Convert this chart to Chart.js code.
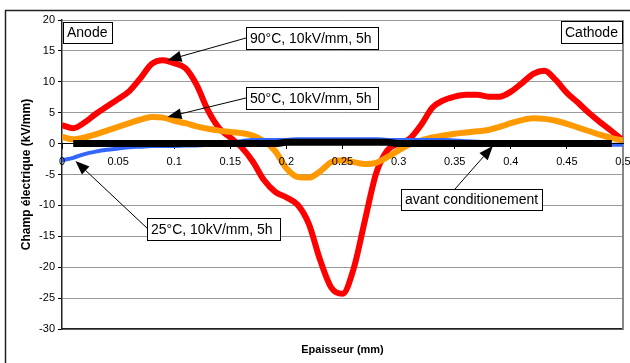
<!DOCTYPE html>
<html>
<head>
<meta charset="utf-8">
<script src="https://cdn.jsdelivr.net/npm/chart.js@4"></script>
<style>
    body { margin: 0; background: #fff; }
    #wrap { width: 630px; height: 363px; position: relative; }
</style>
</head>
<body>
<div id="wrap"><canvas id="fieldChart"></canvas></div>
<script>
// epaisseur (mm), one reading every 0.01 mm
const thickness = [
    0, 0.01, 0.02, 0.03, 0.04, 0.05, 0.06, 0.07, 0.08, 0.09,
    0.1, 0.11, 0.12, 0.13, 0.14, 0.15, 0.16, 0.17, 0.18, 0.19,
    0.2, 0.21, 0.22, 0.23, 0.24, 0.25, 0.26, 0.27, 0.28, 0.29,
    0.3, 0.31, 0.32, 0.33, 0.34, 0.35, 0.36, 0.37, 0.38, 0.39,
    0.4, 0.41, 0.42, 0.43, 0.44, 0.45, 0.46, 0.47, 0.48, 0.49,
    0.5,
];
// champ électrique (kV/mm)
const field90 = [
    3.0, 2.5, 3.4, 4.8, 6.0, 7.2, 8.5, 10.6, 12.9, 13.5,
    13.0, 12.2, 9.5, 5.4, 2.5, 1.0, -0.6, -2.9, -5.9, -7.8,
    -8.7, -9.9, -13.0, -18.8, -23.3, -24.3, -20.2, -12.4, -4.8, -1.1,
    0.0, 0.8, 3.0, 5.8, 7.0, 7.6, 7.9, 7.9, 7.6, 7.6,
    8.4, 9.8, 11.3, 11.8, 10.3, 8.2, 6.6, 4.9, 3.4, 2.0,
    0.5,
];
const field50 = [
    1.1, 0.7, 1.0, 1.5, 2.1, 2.7, 3.3, 3.9, 4.3, 4.2,
    3.7, 3.3, 2.8, 2.4, 2.1, 1.9, 1.7, 1.3, 0.4, -1.2,
    -4.0, -5.4, -5.5, -4.5, -3.0, -2.7, -3.0, -3.3, -3.1, -2.2,
    -1.1, -0.1, 0.5, 1.0, 1.3, 1.6, 1.8, 2.0, 2.2, 2.7,
    3.3, 3.8, 4.1, 4.0, 3.7, 3.2, 2.6, 2.0, 1.4, 0.9,
    0.5,
];
const field25 = [
    -2.7, -2.3, -1.7, -1.3, -1.0, -0.8, -0.6, -0.5, -0.4, -0.4,
    -0.4, -0.3, -0.3, -0.2, -0.1, 0.1, 0.4, 0.6, 0.6, 0.6,
    0.6, 0.7, 0.7, 0.7, 0.7, 0.7, 0.7, 0.7, 0.7, 0.6,
    0.6, 0.6, 0.6, 0.6, 0.6, 0.5, 0.4, 0.3, 0.2, 0.2,
    0.1, 0.1, 0.1, 0.1, 0.1, 0.0, 0.0, 0.0, -0.1, -0.2,
    -0.2,
];
const fieldBefore = [
    null, 0, 0, 0, 0, 0, 0, 0, 0, 0,
    0, 0, 0, 0, 0, 0, 0, 0, 0, 0,
    0.2, 0.2, 0.2, 0.2, 0.2, 0.2, 0.2, 0.2, 0.2, 0.2,
    0, 0, 0, 0, 0, 0, 0, 0, 0, 0,
    0, 0, 0, 0, 0, 0, 0, 0, 0, 0,
    null,
];
const xTickLabels = ['0', '0.05', '0.1', '0.15', '0.2', '0.25', '0.3', '0.35', '0.4', '0.45', '0.5'];
const yTickLabels = ['-30', '-25', '-20', '-15', '-10', '-5', '0', '5', '10', '15', '20'];

const fontFamily = '"Liberation Sans", Arial, sans-serif';

// text boxes (pixels) and arrow tips (data units)
const callouts = [
    { text: 'Anode', box: [63, 22, 112, 43] },
    { text: 'Cathode', box: [561, 21, 622, 43] },
    { text: '90°C, 10kV/mm, 5h', box: [246, 27, 378, 49], from: [246, 38], tip: [0.094, 13.5] },
    { text: '50°C, 10kV/mm, 5h', box: [246, 87, 378, 109], from: [246, 98], tip: [0.094, 4.3] },
    { text: '25°C, 10kV/mm, 5h', box: [147, 218, 280, 240], from: [148, 229], tip: [0.012, -2.8] },
    { text: 'avant conditionement', box: [401, 189, 542, 210], from: [455, 189], tip: [0.384, -0.4] },
];

function toPoints(values) {
    return thickness.map((t, i) => ({ x: t, y: values[i] }));
}

function drawArrow(ctx, fx, fy, tx, ty) {
    const angle = Math.atan2(ty - fy, tx - fx);
    const len = 14;
    const half = 5.5;
    const bx = tx - len * Math.cos(angle);
    const by = ty - len * Math.sin(angle);
    ctx.strokeStyle = '#000';
    ctx.lineWidth = 1;
    ctx.beginPath();
    ctx.moveTo(fx, fy);
    ctx.lineTo(bx, by);
    ctx.stroke();
    ctx.fillStyle = '#000';
    ctx.beginPath();
    ctx.moveTo(tx, ty);
    ctx.lineTo(bx + half * Math.sin(angle), by - half * Math.cos(angle));
    ctx.lineTo(bx - half * Math.sin(angle), by + half * Math.cos(angle));
    ctx.closePath();
    ctx.fill();
}

const framePlugin = {
    id: 'frame',
    beforeDraw(chart) {
        const { ctx } = chart;
        ctx.save();
        ctx.fillStyle = '#fff';
        ctx.fillRect(0, 0, chart.width, chart.height);
        ctx.strokeStyle = '#222';
        ctx.lineWidth = 1.5;
        ctx.strokeRect(5.5, 10.5, 700, 400);
        ctx.restore();
    },
    beforeDatasetsDraw(chart) {
        const { ctx, chartArea: area } = chart;
        ctx.save();
        ctx.strokeStyle = '#888';
        ctx.lineWidth = 2;
        ctx.beginPath();
        ctx.moveTo(area.right, area.top);
        ctx.lineTo(area.right, area.bottom);
        ctx.stroke();
        ctx.restore();
    },
};

const calloutPlugin = {
    id: 'callouts',
    afterDraw(chart) {
        const { ctx } = chart;
        const xScale = chart.scales.x;
        const yScale = chart.scales.y;
        ctx.save();
        ctx.font = '14px ' + fontFamily;
        ctx.textBaseline = 'middle';
        callouts.forEach((c) => {
            if (c.tip) {
                drawArrow(ctx, c.from[0], c.from[1], xScale.getPixelForValue(c.tip[0]), yScale.getPixelForValue(c.tip[1]));
            }
            const [x0, y0, x1, y1] = c.box;
            ctx.fillStyle = '#fff';
            ctx.fillRect(x0, y0, x1 - x0, y1 - y0);
            ctx.strokeStyle = '#000';
            ctx.lineWidth = 1;
            ctx.strokeRect(x0 + 0.5, y0 + 0.5, x1 - x0, y1 - y0);
            ctx.fillStyle = '#000';
            ctx.fillText(c.text, x0 + 4, (y0 + y1) / 2 + 1);
        });
        ctx.restore();
    },
};

Chart.defaults.font.family = fontFamily;
Chart.defaults.color = '#000';

const lineDefaults = {
    pointRadius: 0,
    cubicInterpolationMode: 'monotone',
    fill: false,
};

new Chart(document.getElementById('fieldChart'), {
    type: 'line',
    data: {
        datasets: [
            { ...lineDefaults, label: 'avant conditionement', data: toPoints(fieldBefore), borderColor: '#000', borderWidth: 7 },
            { ...lineDefaults, label: '25°C, 10kV/mm, 5h', data: toPoints(field25), borderColor: '#3366ff', borderWidth: 4 },
            { ...lineDefaults, label: '50°C, 10kV/mm, 5h', data: toPoints(field50), borderColor: '#ff9900', borderWidth: 6 },
            { ...lineDefaults, label: '90°C, 10kV/mm, 5h', data: toPoints(field90), borderColor: '#ff0000', borderWidth: 6 },
        ],
    },
    options: {
        responsive: true,
        maintainAspectRatio: false,
        animation: false,
        layout: { padding: { left: 0, top: 20, right: 7, bottom: 0 } },
        plugins: {
            legend: { display: false },
            tooltip: { enabled: false },
        },
        scales: {
            x: {
                type: 'linear',
                position: { y: 0 },
                min: 0,
                max: 0.5,
                ticks: {
                    z: 1,
                    stepSize: 0.05,
                    autoSkip: false,
                    maxRotation: 0,
                    padding: 7,
                    font: { size: 11 },
                    callback: (value, index) => xTickLabels[index],
                },
                grid: { drawOnChartArea: false, tickLength: 5, color: '#000' },
                border: { color: '#000', width: 1, z: 1 },
                afterFit: (scale) => {
                    scale.paddingLeft = 0;
                    scale.paddingRight = 0;
                },
            },
            x2: {
                type: 'linear',
                position: 'bottom',
                min: 0,
                max: 0.5,
                ticks: { display: false },
                grid: { display: false },
                border: { color: '#222', width: 1.5 },
                title: {
                    display: true,
                    text: 'Epaisseur (mm)',
                    font: { size: 11, weight: 'bold' },
                    padding: { top: 0, bottom: 6 },
                },
                afterFit: (scale) => {
                    scale.height = 34;
                    scale.paddingLeft = 0;
                    scale.paddingRight = 0;
                },
            },
            y: {
                min: -30,
                max: 20,
                ticks: {
                    stepSize: 5,
                    padding: 3,
                    font: { size: 11 },
                    callback: (value, index) => yTickLabels[index],
                },
                grid: { color: '#999', lineWidth: 1, tickLength: 4, tickColor: '#000' },
                border: { color: '#222', width: 1.5 },
                title: {
                    display: true,
                    text: 'Champ électrique (kV/mm)',
                    font: { size: 12, weight: 'bold' },
                    padding: { top: 19, bottom: 0 },
                },
                afterFit: (scale) => {
                    scale.width = 62;
                    scale.paddingTop = 0;
                    scale.paddingBottom = 0;
                },
            },
        },
    },
    plugins: [framePlugin, calloutPlugin],
});
</script>
</body>
</html>
